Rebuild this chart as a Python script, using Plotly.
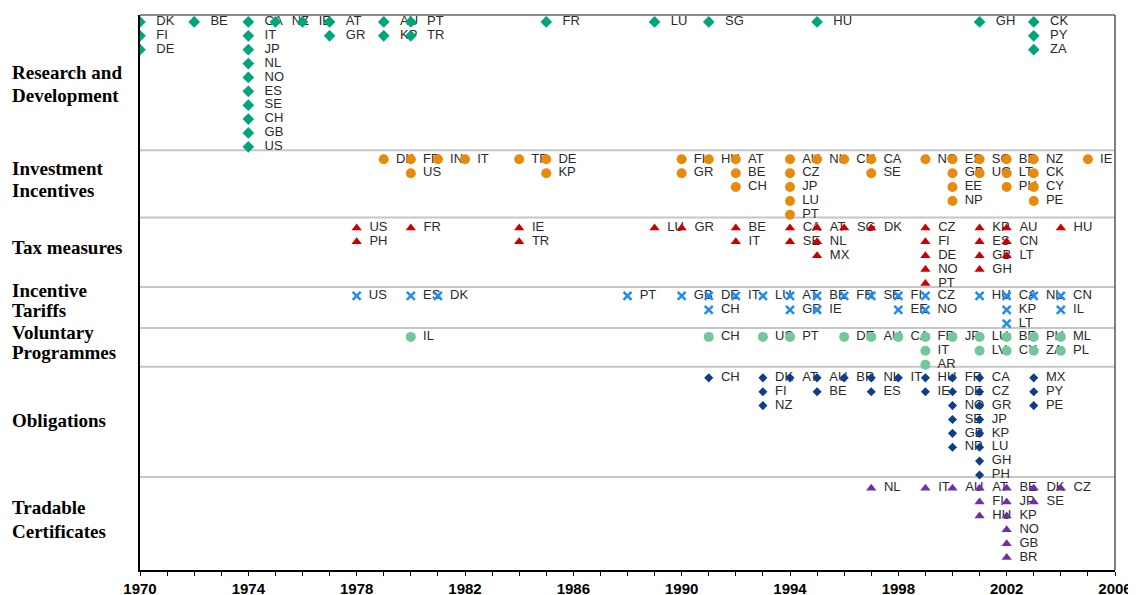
import plotly.graph_objects as go

# policy groups, top to bottom
categories = [
    "Research and<br>Development",
    "Investment<br>Incentives",
    "Tax measures",
    "Incentive<br>Tariffs",
    "Voluntary<br>Programmes",
    "Obligations",
    "Tradable<br>Certificates",
]

rd_years = [1970, 1972, 1974, 1975, 1976, 1977, 1979, 1980, 1985, 1989, 1991, 1995, 2001, 2003]
rd_countries = [
    ["DK", "FI", "DE"], ["BE"],
    ["CA", "IT", "JP", "NL", "NO", "ES", "SE", "CH", "GB", "US"],
    ["NZ"], ["IE"], ["AT", "GR"], ["AU", "KP"], ["PT", "TR"], ["FR"], ["LU"],
    ["SG"], ["HU"], ["GH"], ["CK", "PY", "ZA"],
]

inv_years = [1979, 1980, 1981, 1982, 1984, 1985, 1990, 1991, 1992, 1994, 1995,
             1996, 1997, 1999, 2000, 2001, 2002, 2003, 2005]
inv_countries = [
    ["DK"], ["FR", "US"], ["IN"], ["IT"], ["TR"], ["DE", "KP"], ["FI", "GR"], ["HU"],
    ["AT", "BE", "CH"], ["AU", "CZ", "JP", "LU", "PT"], ["NL"], ["CN"], ["CA", "SE"],
    ["NO"], ["ES", "GB", "EE", "NP"], ["SG", "UG"], ["BR", "LT", "PH"],
    ["NZ", "CK", "CY", "PE"], ["IE"],
]

tax_years = [1978, 1980, 1984, 1989, 1990, 1992, 1994, 1995, 1996, 1997, 1999, 2001, 2002, 2004]
tax_countries = [
    ["US", "PH"], ["FR"], ["IE", "TR"], ["LU"], ["GR"], ["BE", "IT"], ["CA", "SE"],
    ["AT", "NL", "MX"], ["SG"], ["DK"], ["CZ", "FI", "DE", "NO", "PT"],
    ["KP", "ES", "GB", "GH"], ["AU", "CN", "LT"], ["HU"],
]

fit_years = [1978, 1980, 1981, 1988, 1990, 1991, 1992, 1993, 1994, 1995, 1996,
             1997, 1998, 1999, 2001, 2002, 2003, 2004]
fit_countries = [
    ["US"], ["ES"], ["DK"], ["PT"], ["GB"], ["DE", "CH"], ["IT"], ["LU"], ["AT", "GR"],
    ["BE", "IE"], ["FR"], ["SE"], ["FI", "EE"], ["CZ", "NO"], ["HU"],
    ["CA", "KP", "LT"], ["NL"], ["CN", "IL"],
]

vol_years = [1980, 1991, 1993, 1994, 1996, 1997, 1998, 1999, 2000, 2001, 2002, 2003, 2004]
vol_countries = [
    ["IL"], ["CH"], ["US"], ["PT"], ["DE"], ["AU"], ["CA"], ["FR", "IT", "AR"], ["JP"],
    ["LU", "LV"], ["BR", "CY"], ["PH", "ZA"], ["ML", "PL"],
]

obl_years = [1991, 1993, 1994, 1995, 1996, 1997, 1998, 1999, 2000, 2001, 2003]
obl_countries = [
    ["CH"], ["DK", "FI", "NZ"], ["AT"], ["AU", "BE"], ["BR"], ["NL", "ES"], ["IT"],
    ["HU", "IE"], ["FR", "DE", "NO", "SE", "GB", "NP"],
    ["CA", "CZ", "GR", "JP", "KP", "LU", "GH", "PH"], ["MX", "PY", "PE"],
]

trc_years = [1997, 1999, 2000, 2001, 2002, 2003, 2004]
trc_countries = [
    ["NL"], ["IT"], ["AU"], ["AT", "FI", "HU"], ["BE", "JP", "KP", "NO", "GB", "BR"],
    ["DK", "SE"], ["CZ"],
]

tick_years = [1970, 1974, 1978, 1982, 1986, 1990, 1994, 1998, 2002, 2006]

# layout of the rows (y unit = one stacked entry, counted from the top)
row_base = [0.5, 10.4, 15.35, 20.25, 23.2, 26.15, 34.1]
separators = [9.75, 14.6, 19.6, 22.55, 25.35, 33.3]
# y of each line of the group names on the left
label_lines_y = [[4.11, 5.77], [11.03, 12.68], [16.79], [19.89, 21.33],
                 [22.85, 24.29], [29.26], [35.53, 37.19]]

styles = [
    dict(symbol="diamond", size=9, color="#00a57c"),
    dict(symbol="circle", size=10, color="#e88a0c"),
    dict(symbol="triangle-up", size=9, color="#cc0000"),
    dict(symbol="x-thin", size=8, color="#1e8cf5"),
    dict(symbol="circle", size=10, color="#72c79b"),
    dict(symbol="diamond", size=7, color="#0c3f88"),
    dict(symbol="triangle-up", size=9, color="#7030a0"),
]
text_dx = [0.6, 0.45, 0.47, 0.45, 0.45, 0.45, 0.47]

series = [
    (rd_years, rd_countries), (inv_years, inv_countries), (tax_years, tax_countries),
    (fit_years, fit_countries), (vol_years, vol_countries), (obl_years, obl_countries),
    (trc_years, trc_countries),
]

fig = go.Figure()

for i, (years, countries) in enumerate(series):
    xs, ys, labels = [], [], []
    for year, names in zip(years, countries):
        for k, name in enumerate(names):
            xs.append(year)
            ys.append(row_base[i] + k)
            labels.append(name)
    st = styles[i]
    # country codes first so the markers sit on top of them
    fig.add_trace(go.Scatter(
        x=[x + text_dx[i] for x in xs], y=ys, text=labels, mode="text",
        textposition="middle right",
        textfont=dict(family="Liberation Sans", size=13, color="#2a2a2a"),
        hoverinfo="skip",
    ))
    if st["symbol"] == "x-thin":
        marker = dict(symbol="x-thin", size=st["size"],
                      line=dict(width=2.5, color=st["color"]))
    else:
        marker = dict(symbol=st["symbol"], size=st["size"], color=st["color"],
                      line=dict(width=0))
    fig.add_trace(go.Scatter(
        x=xs, y=ys, mode="markers", marker=marker, text=labels,
        hovertemplate="%{text} %{x}<extra></extra>",
    ))

shapes = []
for s in separators:
    shapes.append(dict(type="line", xref="paper", x0=0, x1=1, yref="y", y0=s, y1=s,
                       line=dict(color="#c6c6c6", width=2), layer="below"))
shapes.append(dict(type="line", xref="paper", x0=0, x1=1, yref="paper", y0=1, y1=1,
                   line=dict(color="#8a8a8a", width=2)))
shapes.append(dict(type="line", xref="paper", x0=1, x1=1, yref="paper", y0=0, y1=1,
                   line=dict(color="#555555", width=1.5)))

annotations = []
for name, ys in zip(categories, label_lines_y):
    for line, y in zip(name.split("<br>"), ys):
        annotations.append(dict(
            text=line, xref="paper", x=-130 / 975, xanchor="left", yref="y", y=y,
            yanchor="middle", align="left", showarrow=False,
            font=dict(family="Liberation Serif", size=19, color="black", weight="bold"),
        ))

# the page body adds an 8px offset, so the figure is 8px smaller than the window
fig.update_layout(
    width=1128, height=587,
    margin=dict(l=132, r=21, t=7, b=25),
    paper_bgcolor="white", plot_bgcolor="white",
    showlegend=False,
    shapes=shapes,
    annotations=annotations,
    xaxis=dict(
        range=[1970, 2006], tickvals=tick_years, ticktext=[str(t) for t in tick_years],
        showgrid=False, zeroline=False, showline=True, linecolor="black", linewidth=1.5,
        ticks="outside", ticklen=4, tickcolor="black", automargin=False,
        minor=dict(dtick=1, tick0=1970, ticks="outside", ticklen=4, tickcolor="black"),
        tickfont=dict(family="Liberation Sans", size=15, color="black", weight="bold"),
    ),
    yaxis=dict(
        range=[40, 0], showgrid=False, zeroline=False, showticklabels=False,
        showline=True, linecolor="black", linewidth=1.5, automargin=False,
    ),
)

fig.write_html("out.html")
